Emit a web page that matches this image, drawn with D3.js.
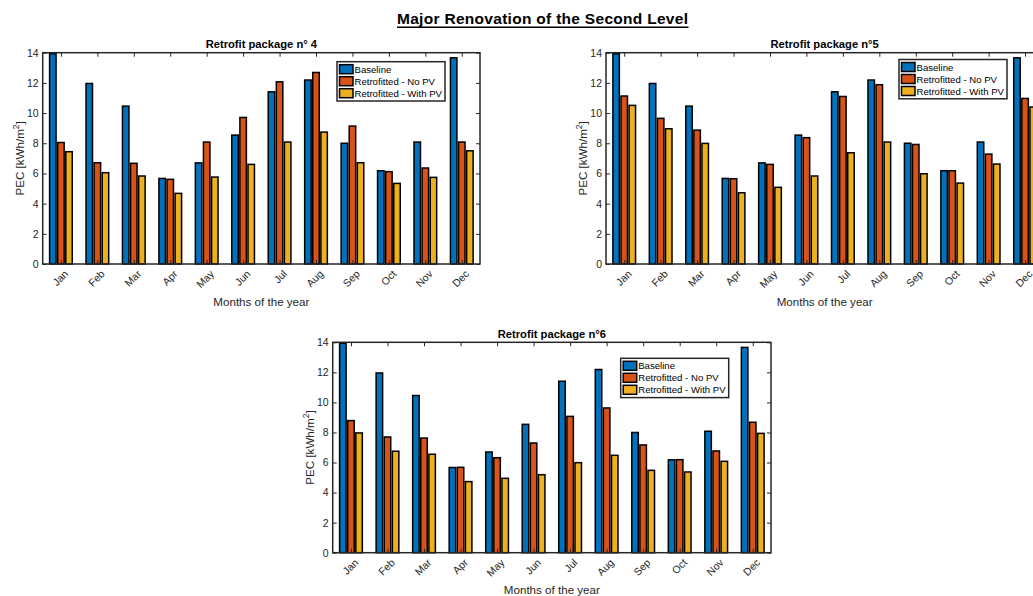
<!DOCTYPE html>
<html>
<head>
<meta charset="utf-8">
<script src="https://cdn.jsdelivr.net/npm/d3@7/dist/d3.min.js"></script>
<style>
  html, body { margin: 0; padding: 0; background: #fff; }
  svg { display: block; font-family: "Liberation Sans", Arial, Helvetica, sans-serif; }
</style>
</head>
<body>
<svg id="chart" width="1033" height="596"></svg>
<script>
// ---- data ----
const months = ["Jan","Feb","Mar","Apr","May","Jun","Jul","Aug","Sep","Oct","Nov","Dec"];
const seriesNames = ["Baseline", "Retrofitted - No PV", "Retrofitted - With PV"];
const yTicks = [0, 2, 4, 6, 8, 10, 12, 14];

const baseline = [13.93, 11.96, 10.46, 5.67, 6.7, 8.54, 11.41, 12.19, 8.0, 6.18, 8.08, 13.66];

const p4NoPV   = [8.05, 6.71, 6.67, 5.61, 8.08, 9.71, 12.07, 12.69, 9.14, 6.12, 6.36, 8.08];
const p4WithPV = [7.44, 6.05, 5.83, 4.68, 5.76, 6.60, 8.08, 8.74, 6.71, 5.34, 5.74, 7.50];

const p5NoPV   = [11.13, 9.65, 8.87, 5.65, 6.60, 8.37, 11.10, 11.88, 7.92, 6.18, 7.28, 10.97];
const p5WithPV = [10.51, 8.96, 7.99, 4.72, 5.08, 5.83, 7.37, 8.08, 5.98, 5.36, 6.62, 10.40];

const p6NoPV   = [8.79, 7.70, 7.63, 5.68, 6.32, 7.30, 9.07, 9.63, 7.17, 6.19, 6.77, 8.68];
const p6WithPV = [7.97, 6.75, 6.55, 4.73, 4.95, 5.19, 5.99, 6.48, 5.48, 5.37, 6.08, 7.94];

const titles = ["Retrofit package n\u00b0 4", "Retrofit package n\u00b05", "Retrofit package n\u00b06"];
const colors = ["#0072BD", "#D95319", "#EDB120"];

// ---- layout ----
const panels = [
  { title: titles[0], series: [baseline, p4NoPV, p4WithPV], left: 42.7, top: 52.7, width: 437.3, height: 211.3, legend: { x: 337, y: 61.7 } },
  { title: titles[1], series: [baseline, p5NoPV, p5WithPV], left: 606, top: 52.7, width: 437.3, height: 211.3, legend: { x: 899, y: 59.5 } },
  { title: titles[2], series: [baseline, p6NoPV, p6WithPV], left: 332.7, top: 342.3, width: 438.3, height: 210.4, legend: { x: 620.7, y: 358.3 } }
];

const svg = d3.select("#chart");
const axisColor = "#262626";

// main title
svg.append("text")
  .attr("x", 542.5).attr("y", 23.5)
  .attr("text-anchor", "middle")
  .attr("font-size", 15.5).attr("font-weight", "bold")
  .attr("fill", "#000")
  .attr("textLength", 291).attr("lengthAdjust", "spacing")
  .text("Major Renovation of the Second Level");
svg.append("line")
  .attr("x1", 397).attr("x2", 688.5)
  .attr("y1", 27.3).attr("y2", 27.3)
  .attr("stroke", "#000").attr("stroke-width", 1.6);

const offsets = [-0.2222, 0, 0.2222];
const barW = 0.178;

panels.forEach(p => {
  const g = svg.append("g");
  const x = d3.scaleLinear().domain([0.5, 12.5]).range([p.left, p.left + p.width]);
  const y = d3.scaleLinear().domain([0, 14]).range([p.top + p.height, p.top]);

  // bars
  p.series.forEach((vals, si) => {
    g.append("g").selectAll("rect")
      .data(vals)
      .join("rect")
      .attr("x", (d, i) => x(i + 1 + offsets[si] - barW / 2))
      .attr("width", (d, i) => x(i + 1 + offsets[si] + barW / 2) - x(i + 1 + offsets[si] - barW / 2))
      .attr("y", d => y(d))
      .attr("height", d => y(0) - y(d))
      .attr("fill", colors[si])
      .attr("stroke", "#000")
      .attr("stroke-width", 1.5);
  });

  // axes
  const tickVals = months.map((m, i) => i + 1);
  const yl = g.append("g").attr("transform", `translate(${p.left},0)`)
    .call(d3.axisLeft(y).tickValues(yTicks).tickSizeInner(-4).tickSizeOuter(0).tickPadding(4));
  const yr = g.append("g").attr("transform", `translate(${p.left + p.width},0)`)
    .call(d3.axisRight(y).tickValues(yTicks).tickSizeInner(-4).tickSizeOuter(0).tickFormat(""));
  const xb = g.append("g").attr("transform", `translate(0,${p.top + p.height})`)
    .call(d3.axisBottom(x).tickValues(tickVals).tickSizeInner(-4).tickSizeOuter(0).tickFormat(""));
  const xt = g.append("g").attr("transform", `translate(0,${p.top})`)
    .call(d3.axisTop(x).tickValues(tickVals).tickSizeInner(-4).tickSizeOuter(0).tickFormat(""));
  [yl, yr, xb, xt].forEach(a => {
    a.select(".domain").remove();
    a.selectAll(".tick line").attr("stroke", axisColor).attr("stroke-width", 1);
    a.selectAll("text").attr("fill", axisColor).attr("font-size", 10.5)
      .attr("font-family", "'Liberation Sans', Arial, Helvetica, sans-serif");
  });

  // month labels
  g.append("g").selectAll("text")
    .data(months)
    .join("text")
    .attr("transform", (d, i) => `translate(${x(i + 1) + 2.5},${p.top + p.height + 5}) rotate(-45)`)
    .attr("text-anchor", "end")
    .attr("dy", "0.75em")
    .attr("font-size", 10.5)
    .attr("fill", axisColor)
    .text(d => d);

  // box
  g.append("rect")
    .attr("x", p.left).attr("y", p.top)
    .attr("width", p.width).attr("height", p.height)
    .attr("fill", "none").attr("stroke", axisColor).attr("stroke-width", 1.5);

  // title
  g.append("text")
    .attr("x", p.left + p.width / 2).attr("y", p.top - 4.5)
    .attr("text-anchor", "middle")
    .attr("font-size", 11.2).attr("font-weight", "bold").attr("fill", "#000")
    .text(p.title);

  // x label
  g.append("text")
    .attr("x", p.left + p.width / 2).attr("y", p.top + p.height + 41.5)
    .attr("text-anchor", "middle")
    .attr("font-size", 11.6).attr("fill", axisColor)
    .text("Months of the year");

  // y label
  const ylab = g.append("text")
    .attr("transform", `translate(${p.left - 19},${p.top + p.height / 2}) rotate(-90)`)
    .attr("text-anchor", "middle")
    .attr("font-size", 11.6).attr("fill", axisColor);
  ylab.append("tspan").text("PEC [kWh/m");
  ylab.append("tspan").attr("baseline-shift", "super").attr("font-size", 8.5).text("2");
  ylab.append("tspan").text("]");

  // legend
  const lg = g.append("g").attr("transform", `translate(${p.legend.x},${p.legend.y})`);
  lg.append("rect").attr("width", 108).attr("height", 39.3)
    .attr("fill", "#fff").attr("stroke", axisColor).attr("stroke-width", 1.5);
  seriesNames.forEach((name, i) => {
    lg.append("rect")
      .attr("x", 2.5).attr("y", 3 + i * 12)
      .attr("width", 13.5).attr("height", 9)
      .attr("fill", colors[i]).attr("stroke", "#000").attr("stroke-width", 1.5);
    lg.append("text")
      .attr("x", 17.5).attr("y", 11 + i * 12)
      .attr("font-size", 9.6).attr("fill", "#000")
      .text(name);
  });
});
</script>
</body>
</html>
